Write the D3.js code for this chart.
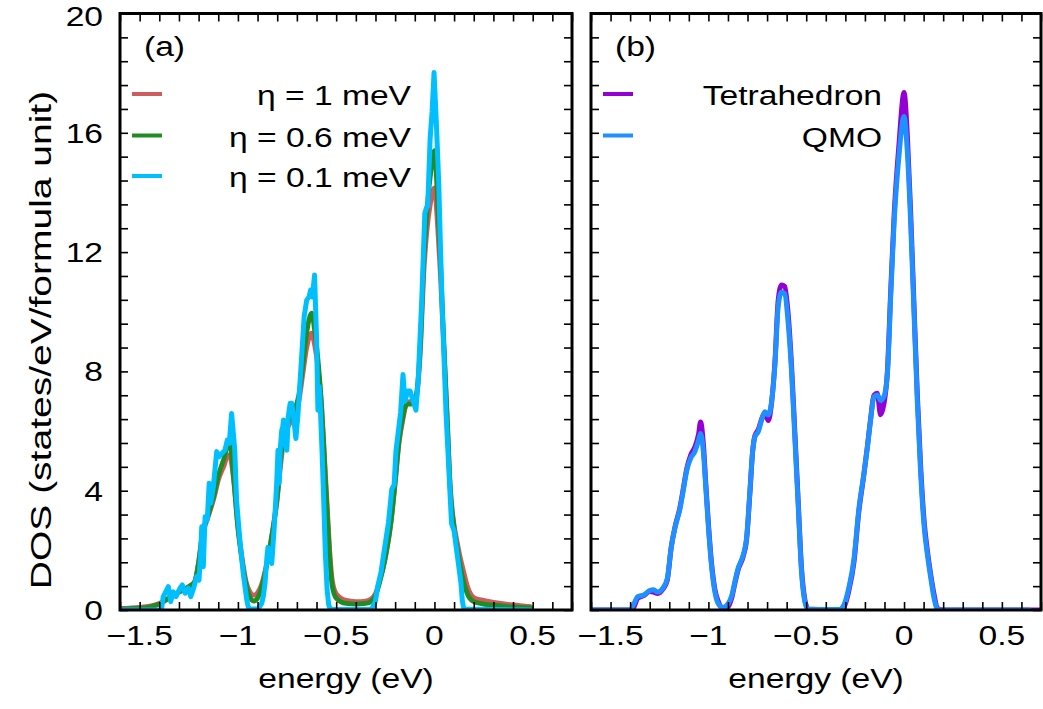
<!DOCTYPE html>
<html>
<head>
<meta charset="utf-8">
<script src="https://cdn.jsdelivr.net/npm/d3@7"></script>
<style>
  body { margin: 0; background: #fff; }
  text { font-family: "Liberation Sans", Arial, Helvetica, sans-serif; fill: #000; }
</style>
</head>
<body>
<svg id="chart" width="1043" height="709"></svg>
<script>
// ---------- data ----------
const xTickValues = [-1.5, -1, -0.5, 0, 0.5];
const xTickLabels = ["\u22121.5", "\u22121", "\u22120.5", "0", "0.5"];
const yTickValues = [0, 4, 8, 12, 16, 20];
const yTickLabels = ["0", "4", "8", "12", "16", "20"];

// panel (a): broadened DOS, eta = 1 meV and 0.6 meV on a shared energy grid (eV)
const energyA = [-1.60, -1.50, -1.45, -1.40, -1.35, -1.30, -1.25, -1.22, -1.20, -1.18, -1.15, -1.12, -1.10, -1.07, -1.05, -1.04,
  -1.02, -1.00, -0.98, -0.96, -0.94, -0.92, -0.90, -0.88, -0.86, -0.84, -0.82, -0.80, -0.785, -0.77, -0.75, -0.72, -0.69,
  -0.67, -0.65, -0.625, -0.61, -0.59, -0.575, -0.565, -0.555, -0.545, -0.535, -0.52, -0.50, -0.45, -0.40, -0.35, -0.32,
  -0.30, -0.28, -0.25, -0.22, -0.20, -0.18, -0.16, -0.14, -0.12, -0.10, -0.09, -0.07, -0.055, -0.04, -0.02, 0.0, 0.015,
  0.03, 0.045, 0.065, 0.08, 0.10, 0.115, 0.13, 0.15, 0.17, 0.20, 0.25, 0.30, 0.40, 0.49];
const dosEta1 = [0.05, 0.09, 0.13, 0.22, 0.42, 0.60, 0.78, 0.95, 1.60, 2.50, 3.15, 3.80, 4.35, 4.85, 5.20, 5.15,
  4.25, 2.80, 1.80, 1.00, 0.62, 0.50, 0.58, 0.85, 1.35, 2.00, 2.80, 3.70, 4.70, 5.55, 6.05, 6.45, 7.00,
  7.90, 8.80, 9.28, 8.90, 8.00, 6.90, 5.80, 4.60, 3.40, 2.20, 1.00, 0.55, 0.32, 0.28, 0.30, 0.38,
  0.55, 0.95, 1.75, 3.00, 4.25, 5.60, 6.40, 6.95, 7.00, 7.05, 7.20, 8.90, 11.20, 12.60, 13.65, 14.15, 13.00,
  11.30, 9.20, 6.40, 4.20, 2.85, 2.30, 1.80, 1.25, 0.75, 0.42, 0.32, 0.26, 0.17, 0.11];
const dosEta06 = [0.03, 0.06, 0.10, 0.20, 0.40, 0.60, 0.78, 0.95, 1.60, 2.60, 3.20, 3.90, 4.50, 5.10, 5.55, 5.50,
  4.30, 2.75, 1.70, 0.90, 0.45, 0.30, 0.40, 0.75, 1.30, 2.00, 2.80, 3.80, 4.90, 5.75, 6.20, 6.60, 7.20,
  8.20, 9.30, 9.95, 9.40, 8.20, 6.90, 5.70, 4.40, 3.20, 2.00, 0.80, 0.40, 0.22, 0.20, 0.22, 0.30,
  0.48, 0.90, 1.75, 3.00, 4.30, 5.70, 6.50, 6.90, 6.90, 7.00, 7.30, 9.10, 11.60, 13.20, 14.60, 15.40, 13.90,
  11.80, 9.40, 6.40, 4.10, 2.75, 2.10, 1.50, 0.90, 0.50, 0.28, 0.20, 0.16, 0.10, 0.07];

// panel (a): eta = 0.1 meV, sampled finely because of its sharp structure
const energyEta01 = [-1.60, -1.40, -1.388, -1.38, -1.354, -1.342, -1.329, -1.315, -1.295, -1.283, -1.269, -1.252, -1.24,
  -1.223, -1.21, -1.198, -1.189, -1.184, -1.176, -1.167, -1.156, -1.146, -1.138, -1.125, -1.108, -1.096, -1.082, -1.066,
  -1.054, -1.044, -1.032, -1.016, -1.007, -0.99, -0.973, -0.955, -0.947, -0.938, -0.898, -0.879, -0.871, -0.862, -0.852,
  -0.847, -0.842, -0.835, -0.828, -0.816, -0.803, -0.796, -0.79, -0.785, -0.777, -0.772, -0.768, -0.761, -0.751, -0.744,
  -0.734, -0.726, -0.717, -0.705, -0.694, -0.68, -0.663, -0.65, -0.638, -0.63, -0.621, -0.61, -0.60, -0.593, -0.586,
  -0.58, -0.571, -0.563, -0.555, -0.546, -0.538, -0.53, -0.32, -0.30, -0.289, -0.272, -0.26, -0.234, -0.217, -0.205,
  -0.196, -0.172, -0.16, -0.15, -0.136, -0.124, -0.108, -0.094, -0.082, -0.075, -0.065, -0.049, -0.04, -0.034, -0.022,
  -0.012, -0.002, 0.01, 0.022, 0.038, 0.059, 0.087, 0.10, 0.115, 0.125, 0.135, 0.142, 0.15, 0.49];
const dosEta01 = [0.0, 0.0, 0.05, 0.45, 0.78, 0.28, 0.61, 0.45, 0.73, 0.84, 0.56, 0.73, 0.45,
  0.78, 1.12, 1.00, 2.01, 2.79, 1.45, 3.13, 3.02, 4.25, 3.58, 4.13, 5.31, 5.14, 5.25, 5.36,
  5.70, 5.59, 6.59, 5.36, 3.69, 2.35, 1.23, 0.34, 0.10, 0.03, 0.03, 0.22, 0.45, 0.90, 1.80,
  2.10, 1.70, 1.70, 1.56, 2.68, 4.20, 5.36, 4.25, 5.36, 6.03, 6.14, 6.37, 5.59, 5.36, 6.48,
  6.93, 6.93, 6.48, 5.75, 6.59, 8.05, 9.83, 10.39, 10.50, 10.73, 10.50, 11.23, 9.16, 6.70, 7.49,
  6.70, 5.14, 3.58, 1.90, 0.67, 0.17, 0.02, 0.02, 0.30, 0.78, 1.26, 1.80, 2.93, 4.05, 4.20,
  5.32, 6.63, 7.90, 7.00, 7.34, 7.34, 7.00, 6.70, 7.80, 8.89, 10.30, 13.30, 13.50, 13.55, 15.80,
  16.70, 18.02, 16.30, 14.30, 10.40, 6.60, 2.90, 2.65, 1.90, 1.40, 0.90, 0.30, 0.03, 0.0];

// panel (b): tetrahedron vs. QMO (eV); the QMO data stop a little before 0.7 eV
const energyTetra = [-1.60, -1.40, -1.385, -1.36, -1.33, -1.30, -1.28, -1.26, -1.23, -1.21, -1.19, -1.17, -1.145, -1.13,
  -1.11, -1.09, -1.07, -1.05, -1.04, -1.025, -1.013, -1.0, -0.985, -0.967, -0.95, -0.925, -0.90, -0.88, -0.865, -0.848,
  -0.822, -0.805, -0.788, -0.774, -0.762, -0.745, -0.728, -0.711, -0.694, -0.677, -0.66, -0.643, -0.626, -0.61, -0.592,
  -0.575, -0.558, -0.541, -0.524, -0.507, -0.49, -0.33, -0.307, -0.282, -0.256, -0.231, -0.205, -0.188, -0.171, -0.154,
  -0.137, -0.12, -0.103, -0.085, -0.068, -0.051, -0.026, 0.0, 0.017, 0.034, 0.051, 0.068, 0.085, 0.103, 0.12, 0.136,
  0.154, 0.171, 0.20, 0.70];
const dosTetra = [0.0, 0.0, 0.05, 0.40, 0.48, 0.62, 0.60, 0.55, 0.72, 1.00, 2.10, 2.80, 3.45, 4.00,
  4.75, 5.20, 5.45, 5.90, 6.30, 5.50, 4.20, 2.90, 1.65, 0.70, 0.30, 0.03, 0.10, 0.42, 0.88, 1.35,
  1.80, 2.35, 3.90, 5.30, 5.85, 6.05, 6.40, 6.60, 6.35, 6.95, 8.30, 10.40, 10.90, 10.85, 9.90,
  8.20, 5.95, 3.65, 1.40, 0.35, 0.03, 0.0, 0.10, 0.65, 1.60, 3.30, 4.55, 5.45, 6.40, 7.20,
  7.27, 6.55, 6.90, 8.00, 10.70, 13.20, 15.60, 17.35, 15.90, 13.30, 10.20, 7.20, 4.80, 2.95, 1.95, 1.20,
  0.50, 0.05, 0.0, 0.0];
const energyQMO = [-1.60, -1.40, -1.385, -1.36, -1.33, -1.30, -1.28, -1.26, -1.23, -1.21, -1.19, -1.17, -1.145, -1.13,
  -1.11, -1.09, -1.07, -1.05, -1.04, -1.025, -1.013, -1.0, -0.985, -0.967, -0.95, -0.925, -0.90, -0.88, -0.865, -0.848,
  -0.822, -0.805, -0.788, -0.774, -0.762, -0.745, -0.728, -0.711, -0.694, -0.677, -0.66, -0.643, -0.626, -0.61, -0.592,
  -0.575, -0.558, -0.541, -0.524, -0.507, -0.49, -0.33, -0.307, -0.282, -0.256, -0.231, -0.205, -0.188, -0.171, -0.154,
  -0.137, -0.12, -0.103, -0.085, -0.068, -0.051, -0.026, 0.0, 0.017, 0.034, 0.051, 0.068, 0.085, 0.103, 0.12, 0.136,
  0.154, 0.171, 0.20, 0.64];
const dosQMO = [0.0, 0.0, 0.15, 0.45, 0.50, 0.65, 0.68, 0.60, 0.76, 1.06, 2.10, 2.78, 3.40, 3.95,
  4.70, 5.10, 5.30, 5.70, 5.92, 5.25, 4.08, 2.80, 1.55, 0.61, 0.22, 0.08, 0.20, 0.50, 0.94, 1.40,
  1.85, 2.40, 3.97, 5.31, 5.81, 5.98, 6.37, 6.65, 6.54, 6.99, 8.22, 10.20, 10.65, 10.60, 9.61,
  7.99, 5.76, 3.52, 1.29, 0.28, 0.02, 0.02, 0.17, 0.75, 1.71, 3.38, 4.58, 5.42, 6.37, 7.15,
  7.21, 7.03, 7.15, 7.93, 10.56, 12.96, 15.23, 16.55, 15.35, 12.96, 9.96, 6.97, 4.58, 2.78, 1.83, 1.10,
  0.38, 0.02, 0.0, 0.0];

const seriesA = [
  { name: "\u03b7 = 1 meV",   energy: energyA,     dos: dosEta1,  color: "#cd5c5c", width: 4.8, curve: d3.curveMonotoneX },
  { name: "\u03b7 = 0.6 meV", energy: energyA,     dos: dosEta06, color: "#228b22", width: 4.8, curve: d3.curveMonotoneX },
  { name: "\u03b7 = 0.1 meV", energy: energyEta01, dos: dosEta01, color: "#00bfff", width: 5,   curve: d3.curveLinear }
];
const seriesB = [
  { name: "Tetrahedron", energy: energyTetra, dos: dosTetra, color: "#9400d3", width: 5, curve: d3.curveMonotoneX },
  { name: "QMO",         energy: energyQMO,   dos: dosQMO,   color: "#1e90ff", width: 5, curve: d3.curveMonotoneX }
];

// ---------- layout ----------
const FONT = 28;        // font size of all text
const SX = 1.2;         // horizontal widening of the glyphs
const yRange = [610, 13.5];
const xDomain = [-1.6, 0.7];
const yDomain = [0, 20];

const svg = d3.select("#chart");
svg.append("rect").attr("width", 1043).attr("height", 709).attr("fill", "#fff");

function wideText(g, x, y, str, anchor) {
  return g.append("text")
    .attr("transform", `translate(${x},${y}) scale(${SX},1)`)
    .attr("text-anchor", anchor || "start")
    .attr("font-size", FONT)
    .text(str);
}

function drawPanel(opts) {
  const { x0, x1, series, tag, showYLabels, legendRight } = opts;
  const x = d3.scaleLinear().domain(xDomain).range([x0, x1]);
  const y = d3.scaleLinear().domain(yDomain).range(yRange);
  const g = svg.append("g");

  const clipId = "clip-" + tag;
  svg.append("clipPath").attr("id", clipId)
    .append("rect").attr("x", x0).attr("y", yRange[1]).attr("width", x1 - x0).attr("height", yRange[0] - yRange[1]);

  // curves
  const curves = g.append("g").attr("clip-path", `url(#${clipId})`);
  series.forEach(s => {
    const pts = s.energy.map((e, i) => [e, s.dos[i]]);
    const line = d3.line().x(d => x(d[0])).y(d => y(d[1])).curve(s.curve);
    curves.append("path").attr("d", line(pts))
      .attr("fill", "none").attr("stroke", s.color).attr("stroke-width", s.width)
      .attr("stroke-linejoin", "round").attr("stroke-linecap", "round");
  });

  // ticks (pointing inward on all four sides)
  const xMinor = d3.range(-16, 8).map(k => k / 10).filter(v => !xTickValues.some(m => Math.abs(m - v) < 1e-9));
  const yMinor = d3.range(0, 26).map(k => k * 0.8).filter(v => v <= 20 && !yTickValues.some(m => Math.abs(m - v) < 1e-9));
  const tickLen = 8;
  const axes = [
    [d3.axisBottom(x), yRange[0], "x"], [d3.axisTop(x), yRange[1], "x"],
    [d3.axisLeft(y), x0, "y"], [d3.axisRight(y), x1, "y"]
  ];
  axes.forEach(([ax, pos, dir]) => {
    [dir === "x" ? xTickValues : yTickValues, dir === "x" ? xMinor : yMinor].forEach(vals => {
      const a = ax.tickValues(vals).tickSize(-tickLen).tickFormat("");
      const gg = g.append("g")
        .attr("transform", dir === "x" ? `translate(0,${pos})` : `translate(${pos},0)`)
        .call(a);
      gg.select(".domain").remove();
      gg.selectAll(".tick line").attr("stroke", "#000").attr("stroke-width", 1.6);
    });
  });

  // frame
  g.append("rect").attr("x", x0).attr("y", yRange[1]).attr("width", x1 - x0).attr("height", yRange[0] - yRange[1])
    .attr("fill", "none").attr("stroke", "#000").attr("stroke-width", 3);

  // tick labels
  xTickValues.forEach((v, i) => wideText(g, x(v), 645, xTickLabels[i], "middle"));
  if (showYLabels) {
    yTickValues.forEach((v, i) => wideText(g, 103, Math.max(y(v) + 10, 26), yTickLabels[i], "end"));
  }

  // axis title
  wideText(g, (x0 + x1) / 2, 688, "energy (eV)", "middle");

  // panel tag
  wideText(g, x0 + 24, 56, "(" + tag + ")", "start");

  // legend
  const rowY = [94, 135.5, 176];
  series.forEach((s, i) => {
    g.append("line").attr("x1", x0 + 12).attr("x2", x0 + 42).attr("y1", rowY[i]).attr("y2", rowY[i])
      .attr("stroke", s.color).attr("stroke-width", 4);
    wideText(g, legendRight, rowY[i] + 11, s.name, "end");
  });
}

drawPanel({ x0: 120, x1: 572, series: seriesA, tag: "a", showYLabels: true, legendRight: 411 });
drawPanel({ x0: 591, x1: 1041, series: seriesB, tag: "b", showYLabels: false, legendRight: 882 });

// y axis title
svg.append("text")
  .attr("transform", "translate(51,340) rotate(-90) scale(1.3,1)")
  .attr("text-anchor", "middle").attr("font-size", 30)
  .text("DOS (states/eV/formula unit)");
</script>
</body>
</html>
